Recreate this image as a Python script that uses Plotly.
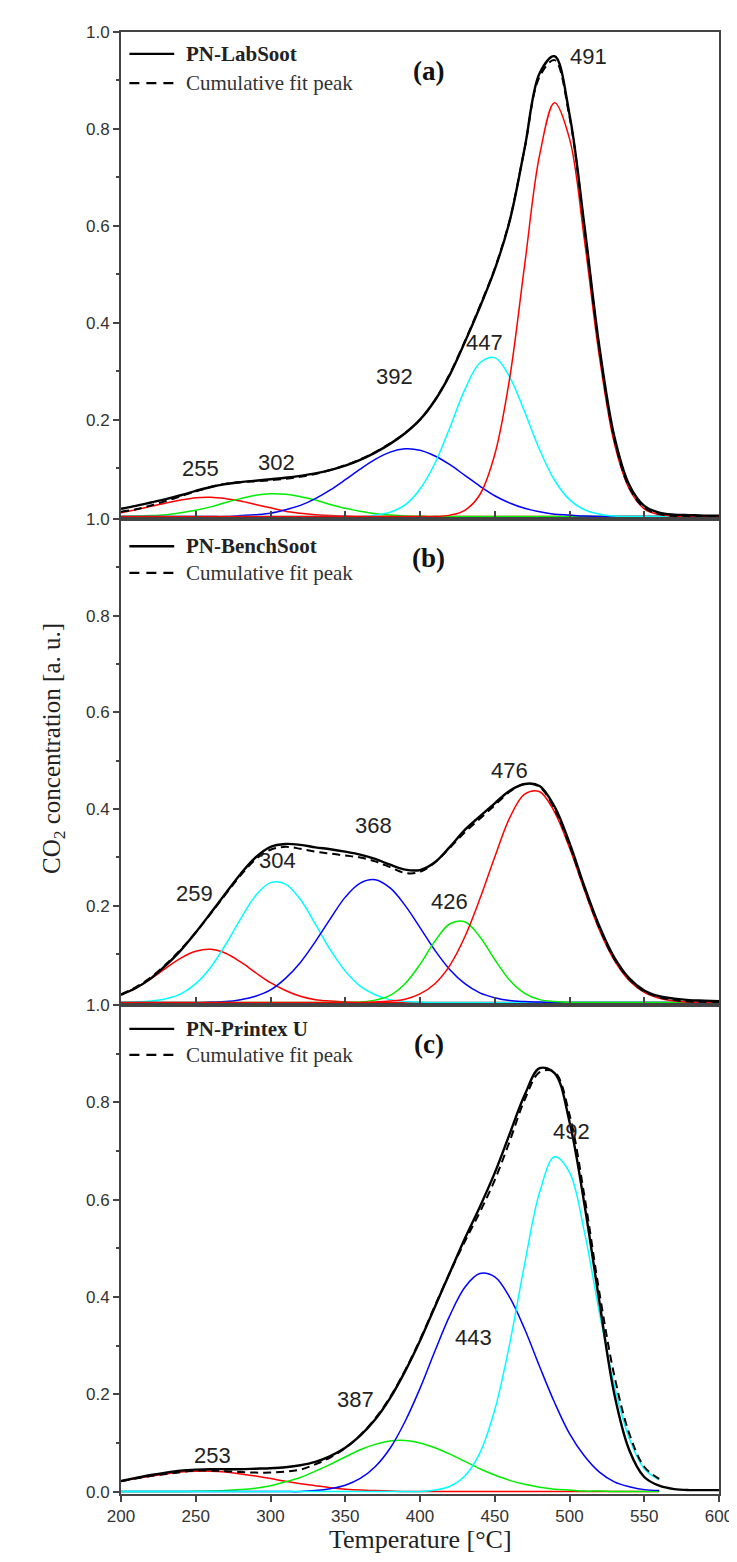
import plotly.graph_objects as go

# ---------------- data ----------------
temps = [200, 210, 220, 230, 240, 250, 260, 270, 280, 290,
         300, 310, 320, 330, 340, 350, 360, 370, 380, 390,
         400, 410, 420, 430, 440, 450, 460, 470, 480, 490,
         500, 510, 520, 530, 540, 550, 560, 570, 580, 590, 600]
temps_c_fit = [200, 210, 220, 230, 240, 250, 260, 270, 280, 290,
               300, 310, 320, 330, 340, 350, 360, 370, 380, 390,
               400, 410, 420, 430, 440, 450, 460, 470, 480, 490,
               500, 510, 520, 530, 540, 550, 560]

# Panel (a) PN-LabSoot
a_meas = [0.016, 0.022, 0.029, 0.036, 0.044, 0.053, 0.061, 0.067, 0.071, 0.074,
          0.077, 0.080, 0.084, 0.089, 0.096, 0.105, 0.117, 0.132, 0.150, 0.172,
          0.200, 0.240, 0.293, 0.360, 0.432, 0.510, 0.610, 0.760, 0.915, 0.950,
          0.830, 0.600, 0.350, 0.165, 0.065, 0.022, 0.008, 0.004, 0.003, 0.002, 0.002]
a_fit = [0.010, 0.015, 0.023, 0.032, 0.042, 0.052, 0.061, 0.068, 0.071, 0.073,
         0.075, 0.078, 0.082, 0.088, 0.096, 0.106, 0.118, 0.133, 0.151, 0.172,
         0.200, 0.240, 0.295, 0.362, 0.434, 0.512, 0.612, 0.760, 0.908, 0.942,
         0.825, 0.595, 0.345, 0.160, 0.060, 0.018, 0.005, 0.001, 0.0, 0.0, 0.0]
a_red1 = [0.008, 0.014, 0.021, 0.028, 0.034, 0.039, 0.040, 0.037, 0.032, 0.025,
          0.018, 0.011, 0.007, 0.004, 0.002, 0.001, 0, 0, 0, 0,
          0, 0, 0, 0, 0, 0, 0, 0, 0, 0,
          0, 0, 0, 0, 0, 0, 0, 0, 0, 0, 0]
a_green = [0.0004, 0.001, 0.002, 0.004, 0.008, 0.013, 0.020, 0.029, 0.037, 0.044,
           0.047, 0.046, 0.041, 0.034, 0.025, 0.017, 0.011, 0.006, 0.003, 0.001,
           0.0006, 0, 0, 0, 0, 0, 0, 0, 0, 0,
           0, 0, 0, 0, 0, 0, 0, 0, 0, 0, 0]
a_blue = [0, 0, 0, 0, 0, 0, 0, 0, 0.002, 0.004,
          0.007, 0.014, 0.023, 0.037, 0.055, 0.076, 0.098, 0.118, 0.133, 0.140,
          0.137, 0.125, 0.107, 0.085, 0.063, 0.043, 0.028, 0.017, 0.010, 0.005,
          0.003, 0.001, 0, 0, 0, 0, 0, 0, 0, 0, 0]
a_cyan = [0, 0, 0, 0, 0, 0, 0, 0, 0, 0,
          0, 0, 0, 0, 0, 0, 0, 0.003, 0.009, 0.024,
          0.057, 0.110, 0.184, 0.262, 0.317, 0.328, 0.288, 0.216, 0.138, 0.075,
          0.035, 0.014, 0.005, 0.001, 0, 0, 0, 0, 0, 0, 0]
a_red2 = [0, 0, 0, 0, 0, 0, 0, 0, 0, 0,
          0, 0, 0, 0, 0, 0, 0, 0, 0, 0,
          0, 0, 0.003, 0.013, 0.045, 0.128, 0.286, 0.519, 0.746, 0.854,
          0.780, 0.570, 0.330, 0.151, 0.057, 0.016, 0.004, 0.001, 0, 0, 0]

# Panel (b) PN-BenchSoot
b_meas = [0.016, 0.030, 0.050, 0.077, 0.108, 0.145, 0.185, 0.226, 0.266, 0.300,
          0.322, 0.328, 0.326, 0.321, 0.317, 0.312, 0.306, 0.297, 0.285, 0.275,
          0.274, 0.290, 0.322, 0.357, 0.385, 0.412, 0.438, 0.452, 0.448, 0.405,
          0.330, 0.240, 0.158, 0.093, 0.050, 0.025, 0.013, 0.008, 0.005, 0.004, 0.003]
b_fit = [0.017, 0.032, 0.052, 0.079, 0.110, 0.145, 0.184, 0.224, 0.263, 0.296,
         0.316, 0.322, 0.318, 0.312, 0.308, 0.304, 0.300, 0.292, 0.280, 0.268,
         0.270, 0.290, 0.320, 0.352, 0.380, 0.408, 0.436, 0.452, 0.446, 0.400,
         0.325, 0.236, 0.154, 0.090, 0.048, 0.023, 0.011, 0.005, 0.002, 0.001, 0.0]
b_red1 = [0.017, 0.031, 0.049, 0.071, 0.092, 0.106, 0.110, 0.102, 0.084, 0.062,
          0.041, 0.025, 0.013, 0.006, 0.003, 0.001, 0, 0, 0, 0,
          0, 0, 0, 0, 0, 0, 0, 0, 0, 0,
          0, 0, 0, 0, 0, 0, 0, 0, 0, 0, 0]
b_cyan = [0.0003, 0.001, 0.003, 0.008, 0.018, 0.039, 0.073, 0.120, 0.173, 0.221,
          0.248, 0.245, 0.213, 0.162, 0.109, 0.065, 0.034, 0.016, 0.006, 0.002,
          0.001, 0, 0, 0, 0, 0, 0, 0, 0, 0,
          0, 0, 0, 0, 0, 0, 0, 0, 0, 0, 0]
b_blue = [0, 0, 0, 0, 0, 0, 0.001, 0.002, 0.006, 0.013,
          0.026, 0.050, 0.083, 0.126, 0.173, 0.218, 0.247, 0.254, 0.237, 0.201,
          0.155, 0.108, 0.068, 0.039, 0.020, 0.010, 0.004, 0.002, 0.001, 0,
          0, 0, 0, 0, 0, 0, 0, 0, 0, 0, 0]
b_green = [0, 0, 0, 0, 0, 0, 0, 0, 0, 0,
           0, 0, 0, 0, 0, 0, 0.001, 0.005, 0.015, 0.039,
           0.079, 0.127, 0.163, 0.167, 0.136, 0.089, 0.046, 0.019, 0.006, 0.002,
           0, 0, 0, 0, 0, 0, 0, 0, 0, 0, 0]
b_red2 = [0, 0, 0, 0, 0, 0, 0, 0, 0, 0,
          0, 0, 0, 0, 0, 0, 0, 0.001, 0.003, 0.007,
          0.018, 0.039, 0.077, 0.136, 0.214, 0.301, 0.382, 0.431, 0.436, 0.394,
          0.320, 0.232, 0.150, 0.087, 0.045, 0.021, 0.009, 0.003, 0.001, 0, 0]

# Panel (c) PN-Printex U
c_meas = [0.022, 0.028, 0.034, 0.039, 0.043, 0.045, 0.046, 0.046, 0.046, 0.047,
          0.048, 0.050, 0.054, 0.061, 0.073, 0.090, 0.115, 0.148, 0.192, 0.247,
          0.310, 0.380, 0.450, 0.520, 0.585, 0.655, 0.735, 0.815, 0.870, 0.860,
          0.760, 0.590, 0.390, 0.200, 0.085, 0.030, 0.012, 0.005, 0.003, 0.003, 0.003]
c_fit = [0.021, 0.027, 0.032, 0.036, 0.040, 0.043, 0.043, 0.042, 0.040, 0.039,
         0.039, 0.041, 0.045, 0.056, 0.070, 0.089, 0.116, 0.150, 0.194, 0.249,
         0.312, 0.382, 0.450, 0.514, 0.574, 0.640, 0.720, 0.805, 0.862, 0.862,
         0.775, 0.607, 0.409, 0.238, 0.119, 0.051, 0.026]
c_red = [0.021, 0.027, 0.032, 0.036, 0.040, 0.042, 0.042, 0.040, 0.036, 0.032,
         0.027, 0.021, 0.016, 0.012, 0.008, 0.005, 0.003, 0.002, 0.001, 0.0,
         0, 0, 0, 0, 0, 0, 0, 0, 0, 0,
         0, 0, 0, 0, 0, 0, 0]
c_green = [0, 0, 0, 0, 0.0002, 0.0005, 0.001, 0.002, 0.004, 0.007,
           0.012, 0.020, 0.029, 0.042, 0.056, 0.071, 0.086, 0.097, 0.104, 0.105,
           0.100, 0.090, 0.077, 0.062, 0.047, 0.034, 0.023, 0.015, 0.009, 0.005,
           0.003, 0.001, 0.001, 0, 0, 0, 0]
c_blue = [0, 0, 0, 0, 0, 0, 0, 0, 0, 0,
          0, 0, 0, 0.002, 0.006, 0.013, 0.027, 0.051, 0.089, 0.144,
          0.212, 0.289, 0.362, 0.420, 0.448, 0.441, 0.399, 0.334, 0.257, 0.183,
          0.119, 0.073, 0.040, 0.020, 0.010, 0.004, 0.002]
c_cyan = [0, 0, 0, 0, 0, 0, 0, 0, 0, 0,
          0, 0, 0, 0, 0, 0, 0, 0, 0, 0,
          0, 0.003, 0.011, 0.032, 0.079, 0.168, 0.304, 0.468, 0.615, 0.688,
          0.656, 0.533, 0.368, 0.218, 0.109, 0.047, 0.024]

# peak labels: (text, temperature, value)
a_labels = [("255", 253, 0.099), ("302", 304, 0.111), ("392", 383, 0.29),
            ("447", 443, 0.36), ("491", 513, 0.95)]
b_labels = [("259", 249, 0.226), ("304", 305, 0.294), ("368", 369, 0.366),
            ("426", 420, 0.21), ("476", 460, 0.48)]
c_labels = [("253", 261, 0.075), ("387", 357, 0.19), ("443", 436, 0.317),
            ("492", 501, 0.74)]

sample_names = ["PN-LabSoot", "PN-BenchSoot", "PN-Printex U"]
fit_name = "Cumulative fit peak"
panel_tags = ["(a)", "(b)", "(c)"]

# ---------------- figure ----------------
RED, GREEN, BLUE, CYAN = "#ff0000", "#00ee00", "#0000ff", "#00ffff"
SERIF = "Liberation Serif"
SANS = "Liberation Sans"
SM = 1.0

fig = go.Figure()

panels = [
    dict(x=temps, meas=a_meas, fitx=temps, fit=a_fit,
         comps=[(a_red1, RED), (a_green, GREEN), (a_blue, BLUE), (a_cyan, CYAN), (a_red2, RED)],
         compx=temps, labels=a_labels, leg_y=(0.955, 0.895)),
    dict(x=temps, meas=b_meas, fitx=temps, fit=b_fit,
         comps=[(b_red1, RED), (b_cyan, CYAN), (b_blue, BLUE), (b_green, GREEN), (b_red2, RED)],
         compx=temps, labels=b_labels, leg_y=(0.944, 0.889)),
    dict(x=temps, meas=c_meas, fitx=temps_c_fit, fit=c_fit,
         comps=[(c_red, RED), (c_green, GREEN), (c_blue, BLUE), (c_cyan, CYAN)],
         compx=temps_c_fit, labels=c_labels, leg_y=(0.951, 0.898)),
]

for i, p in enumerate(panels):
    xa = "x" if i == 0 else f"x{i+1}"
    ya = "y" if i == 0 else f"y{i+1}"
    for vals, col in p["comps"]:
        fig.add_trace(go.Scatter(x=p["compx"], y=vals, mode="lines",
                                 line=dict(color=col, width=1.5, shape="spline", smoothing=SM),
                                 showlegend=False, xaxis=xa, yaxis=ya, hoverinfo="skip"))
    fig.add_trace(go.Scatter(x=p["x"], y=p["meas"], mode="lines",
                             name=sample_names[i], showlegend=False,
                             line=dict(color="#000000", width=2.4, shape="spline", smoothing=SM),
                             xaxis=xa, yaxis=ya))
    fig.add_trace(go.Scatter(x=p["fitx"], y=p["fit"], mode="lines",
                             name=fit_name, showlegend=False,
                             line=dict(color="#000000", width=2, dash="8px,5px",
                                       shape="spline", smoothing=SM),
                             xaxis=xa, yaxis=ya))
    for txt, tx, ty in p["labels"]:
        fig.add_annotation(x=tx, y=ty, xref=xa, yref=ya, text=txt, showarrow=False,
                           font=dict(family=SANS, size=22, color="#222"))
    fig.add_annotation(x=406, y=0.92, xref=xa, yref=ya, text=f"<b>{panel_tags[i]}</b>",
                       showarrow=False, font=dict(family=SERIF, size=27, color="#111"))
    # legend (drawn by hand so the sample lines match the original length)
    xd = f"{xa} domain"
    yd = f"{ya} domain"
    y1, y2 = p["leg_y"]
    fig.add_shape(type="line", xref=xd, yref=yd, x0=0.014, x1=0.089, y0=y1, y1=y1,
                  line=dict(color="#000", width=2.4))
    fig.add_shape(type="line", xref=xd, yref=yd, x0=0.014, x1=0.089, y0=y2, y1=y2,
                  line=dict(color="#000", width=2.2, dash="10px,7px"))
    fig.add_annotation(x=0.106, y=y1, xref=xd, yref=yd, xanchor="left", yanchor="middle",
                       text=f"<b>{sample_names[i]}</b>", showarrow=False,
                       font=dict(family=SERIF, size=21, color="#222"))
    fig.add_annotation(x=0.106, y=y2, xref=xd, yref=yd, xanchor="left", yanchor="middle",
                       text=fit_name, showarrow=False,
                       font=dict(family=SERIF, size=21, color="#333"))

domains = [[0.6669, 1.0], [0.3345, 0.6669], [0.0, 0.3345]]
AX_COL = "#444"
for i in range(3):
    ykey = "yaxis" if i == 0 else f"yaxis{i+1}"
    xkey = "xaxis" if i == 0 else f"xaxis{i+1}"
    yanchor = "y" if i == 0 else f"y{i+1}"
    xanchor = "x" if i == 0 else f"x{i+1}"
    tv = [0.2, 0.4, 0.6, 0.8, 1.0] if i < 2 else [0.0, 0.2, 0.4, 0.6, 0.8, 1.0]
    fig.layout[ykey] = dict(
        domain=domains[i], anchor=xanchor, range=[-0.005, 1.0],
        tickvals=tv, ticktext=[f"{v:.1f}" for v in tv],
        ticks="outside", ticklen=6, tickwidth=1.5, tickcolor=AX_COL,
        minor=dict(tickvals=[0.1, 0.3, 0.5, 0.7, 0.9], ticks="outside", ticklen=3,
                   tickwidth=1.5, tickcolor=AX_COL),
        showline=True, linecolor=AX_COL, linewidth=1.8, mirror=True,
        showgrid=False, zeroline=False,
        tickfont=dict(family=SANS, size=17, color="#333"),
    )
    xdict = dict(
        anchor=yanchor, range=[200, 600], showline=True, linecolor=AX_COL,
        linewidth=1.8, mirror=True, showgrid=False, zeroline=False,
        tickwidth=1.5, tickcolor=AX_COL,
    )
    if i < 2:
        xdict.update(tickvals=[250, 300, 350, 400, 450, 500, 550], ticks="inside",
                     ticklen=8, showticklabels=False, matches="x3")
    else:
        xdict.update(tickvals=[200, 250, 300, 350, 400, 450, 500, 550, 600],
                     ticks="outside", ticklen=6,
                     tickfont=dict(family=SANS, size=17, color="#333"))
    fig.layout[xkey] = xdict

# axis titles
fig.add_annotation(x=-0.142, y=0.51, xref="paper", yref="paper", textangle=-90,
                   text="CO<sub>2</sub> concentration [a. u.]", showarrow=False,
                   font=dict(family=SERIF, size=25, color="#222"))
fig.add_annotation(x=0.5, y=-0.0424, xref="paper", yref="paper",
                   text="Temperature [°C]", showarrow=False,
                   font=dict(family=SERIF, size=26, color="#222"))

fig.update_layout(
    width=737, height=1562,
    margin=dict(l=113, r=19, t=24, b=76),
    paper_bgcolor="white", plot_bgcolor="white",
    showlegend=False,
)

fig.write_html("out.html")
